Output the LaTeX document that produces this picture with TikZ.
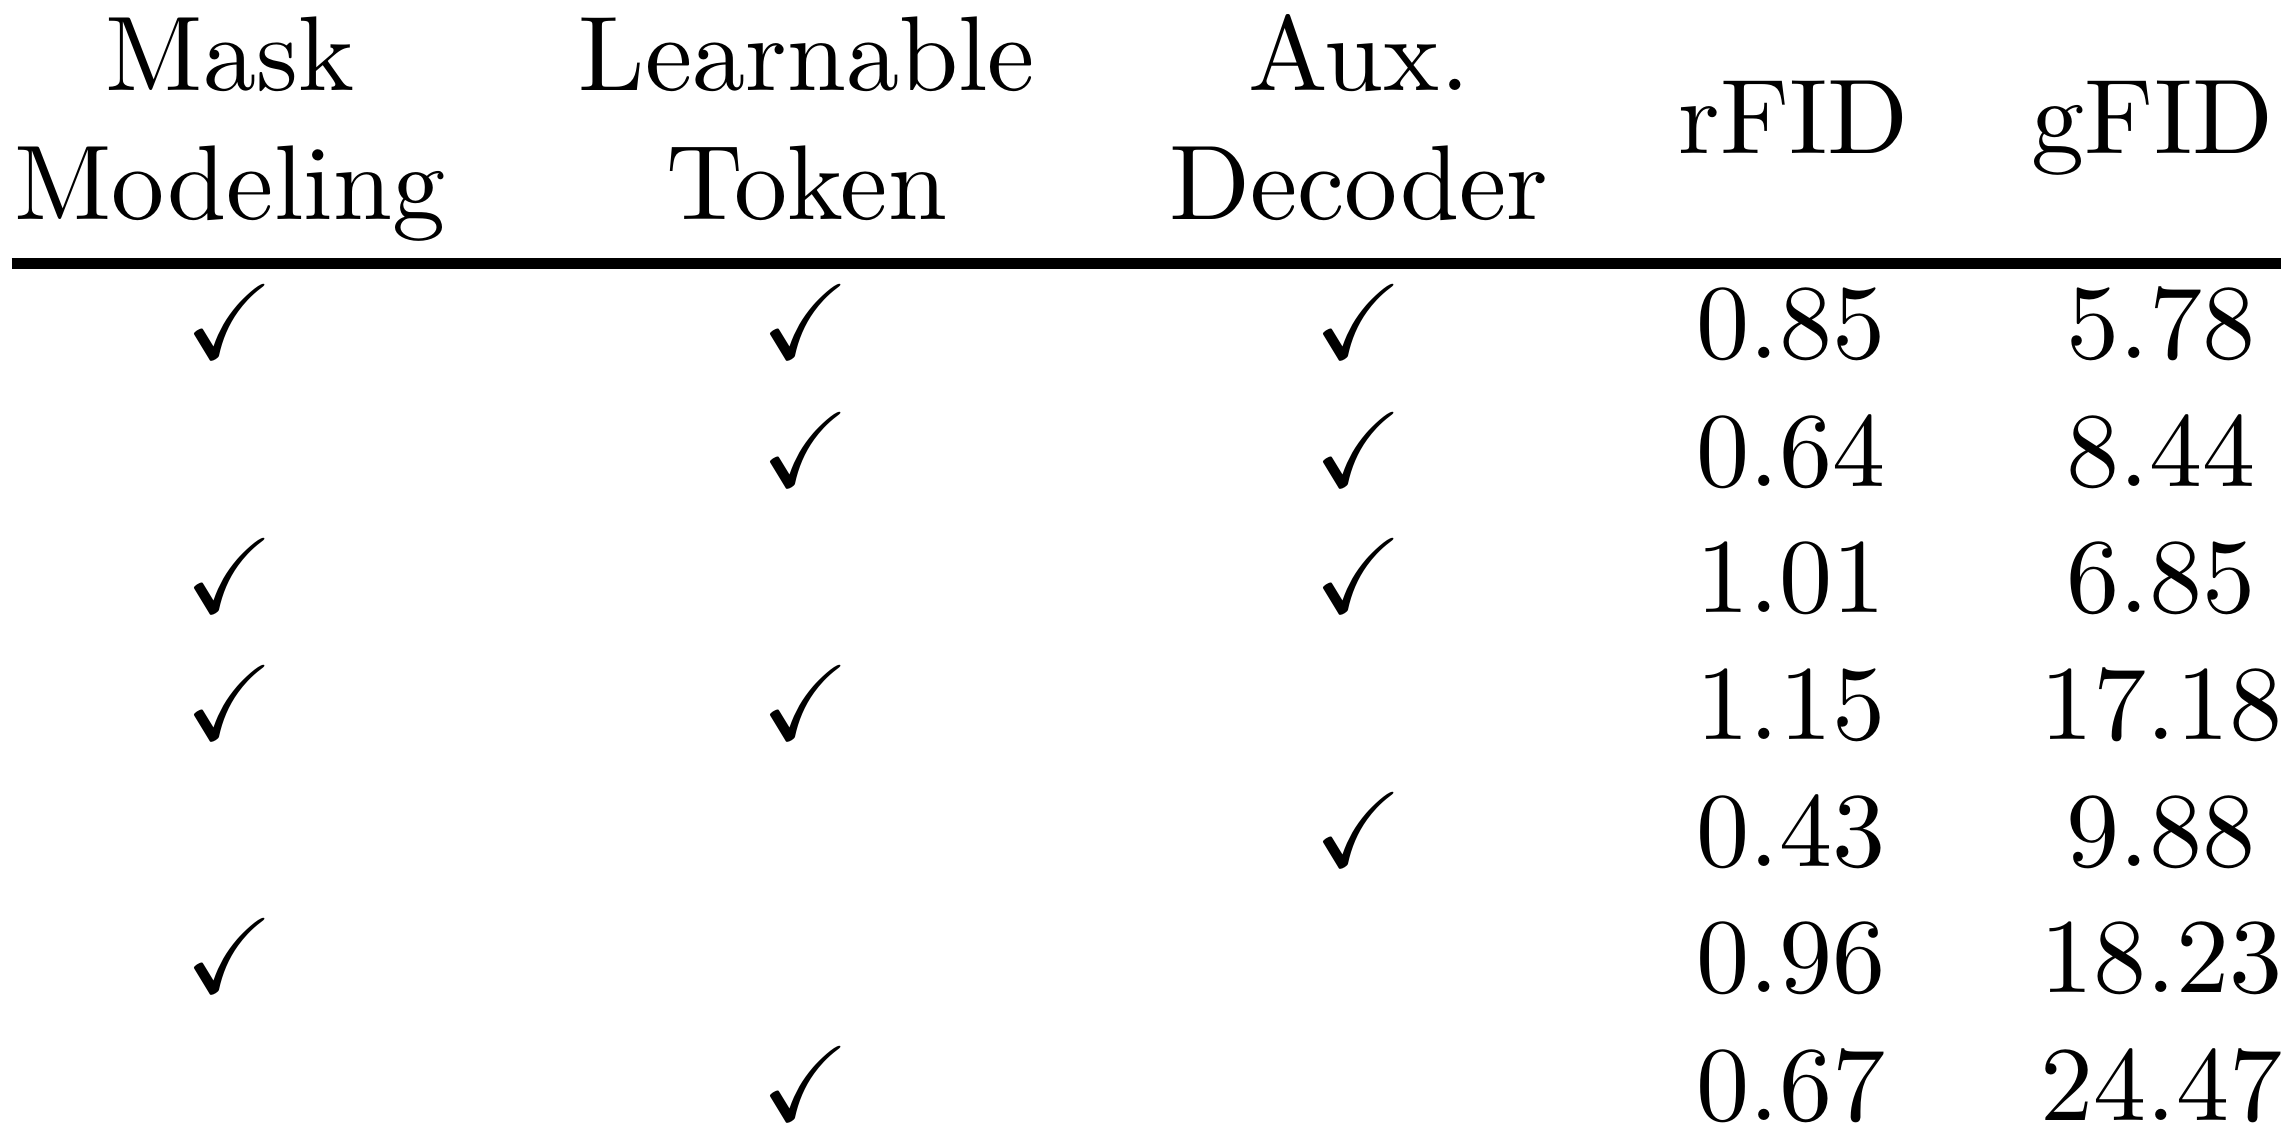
\documentclass[tikz,border=0pt]{standalone}
\usepackage{amssymb}
\begin{document}
\begin{tikzpicture}[x=0.1379pt,y=-0.1379pt,
  cell/.style={anchor=base,inner sep=0pt,font=\fontsize{10}{12}\selectfont},
  tick/.style={anchor=base,inner sep=0pt,font=\fontsize{10}{12}\selectfont},
  tablerule/.style={line width=1pt}]
\useasboundingbox (0,0) rectangle (1568,783);
% header
\node[cell] (h1a) at (157,62) {Mask};
\node[cell] (h1b) at (157,150) {Modeling};
\node[cell] (h2a) at (551,62) {Learnable};
\node[cell] (h2b) at (551,150) {Token};
\node[cell] (h3a) at (928,62) {Aux.};
\node[cell] (h3b) at (928,150) {Decoder};
\node[cell] (h4) at (1225,105) {rFID};
\node[cell] (h5) at (1470,105) {gFID};
% rule
\coordinate (rl) at (8,180);
\coordinate (rr) at (1558,180);
\draw[tablerule] (rl) -- (rr);
% rows
\foreach \y/\a/\b/\c/\r/\g [count=\i] in {
  245/1/1/1/0.85/5.78,
  332/0/1/1/0.64/8.44,
  418/1/0/1/1.01/6.85,
  505/1/1/0/1.15/17.18,
  592/0/0/1/0.43/9.88,
  678/1/0/0/0.96/18.23,
  765/0/1/0/0.67/24.47}{
  \ifnum\a=1 \node[tick] (m\i) at (157,\y) {$\checkmark$};\fi
  \ifnum\b=1 \node[tick] (l\i) at (550,\y) {$\checkmark$};\fi
  \ifnum\c=1 \node[tick] (d\i) at (928,\y) {$\checkmark$};\fi
  \node[cell] (r\i) at (1223,\y) {\r};
  \node[cell] (g\i) at (1476,\y) {\g};
}
\end{tikzpicture}
\end{document}
